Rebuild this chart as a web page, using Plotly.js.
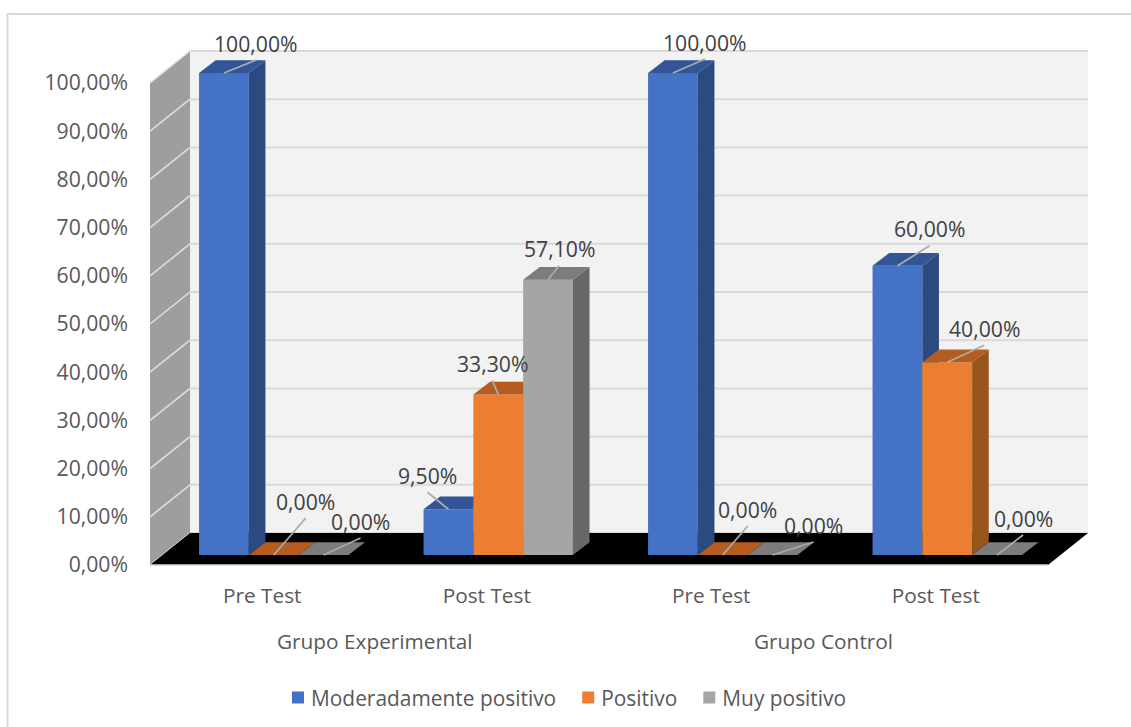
<!DOCTYPE html>
<html>
<head>
<meta charset="utf-8">
<script src="https://cdn.plot.ly/plotly-3.0.1.min.js"></script>
<style>html,body{margin:0;padding:0;background:#fff}#chart{width:1131px;height:727px}</style>
</head>
<body>
<div id="chart"></div>
<script>
// Chart data
const tests = ["Pre Test", "Post Test", "Pre Test", "Post Test"];
const groups = ["Grupo Experimental", "Grupo Control"];
const moderadamente = [100, 9.5, 100, 60];
const positivo = [0, 33.3, 0, 40];
const muyPositivo = [0, 57.1, 0, 0];
const seriesNames = ["Moderadamente positivo", "Positivo", "Muy positivo"];
const percentTicks = [0, 10, 20, 30, 40, 50, 60, 70, 80, 90, 100];

// Leader-line ends relative to the top of each bar, in pixels
const leaderEnds = [
  [[32, -13], [-21, -17], [32, -14], [32, -20]],
  [[32, -37], [-6, -14], [25, -29], [37, -17]],
  [[37, -17], [11, -14], [41, -13], [26, -20]]
];

// Colours: front, top, side
const palette = [
  ["#4472C4", "#315597", "#2A4A80"],
  ["#ED7D31", "#B55D20", "#97551C"],
  ["#A5A5A5", "#7C7C7C", "#686868"]
];
const FONT = '"Open Sans", "Noto Sans", sans-serif';
const TEXT = "#595959";

// Plot frame and pixel scale
const W = 1131, H = 727;
const M = {l: 138, r: 21, t: 20, b: 152, autoexpand: false};
const pxPerCat = 224.5, pxPerPct = 4.82;
const cat0Px = 262.25, zeroPx = 565;
const xRange = [(M.l - cat0Px) / pxPerCat, (W - M.r - cat0Px) / pxPerCat];
const yRange = [(zeroPx - (H - M.b)) / pxPerPct, (zeroPx - M.t) / pxPerPct];
const dxu = p => p / pxPerCat, dyu = p => p / pxPerPct;

// Perspective offsets
const wallX = dxu(40), wallY = dyu(32);
const barW = dxu(49.8), shiftX = dxu(11.5), baseY = dyu(10);
const depthX = dxu(16.6), depthY = dyu(12.7);

const fmt = v => v.toFixed(2).replace(".", ",") + "%";
const pxX = px => (px - M.l) / (W - M.l - M.r);
const pxY = py => (H - M.b - py) / (H - M.t - M.b);

const allSeries = [moderadamente, positivo, muyPositivo];
const traces = [], shapes = [], annotations = [];

// Walls, floor and gridlines sit behind every bar
const xL = -0.5, xR = tests.length - 0.5;
const poly = (pts, fill) => ({
  type: "path", xref: "x", yref: "y", layer: "below", fillcolor: fill,
  line: {width: 0},
  path: "M" + pts.map(p => p.join(",")).join("L") + "Z"
});
const seg = (x0, y0, x1, y1, color, width, layer) => ({
  type: "line", xref: "x", yref: "y", layer: layer || "below",
  x0, y0, x1, y1, line: {color, width}
});
const yMax = 100;
shapes.push(poly([[xL + wallX, wallY], [xR + wallX, wallY], [xR + wallX, yMax + wallY], [xL + wallX, yMax + wallY]], "#F2F2F2"));
shapes.push(poly([[xL, 0], [xL + wallX, wallY], [xL + wallX, yMax + wallY], [xL, yMax]], "#9E9E9E"));
percentTicks.forEach(v => {
  shapes.push(seg(xL + wallX, v + wallY, xR + wallX, v + wallY, "#D9D9D9", 2));
  shapes.push(seg(xL, v, xL + wallX, v + wallY, "#DEDEDE", 1.6));
});
shapes.push(poly([[xL, 0], [xL + wallX, wallY], [xR + wallX, wallY], [xR, 0]], "#000000"));
shapes.push(seg(xL, 0, xR, 0, "#D9D9D9", 1.5));

// One overlaid axis pair per series, so later series paint over earlier ones
allSeries.forEach((vals, s) => {
  const suffix = s === 0 ? "" : String(s + 1);
  const xa = "x" + suffix, ya = "y" + suffix;
  const lefts = vals.map((_, i) => i + shiftX + (s - 1.5) * barW);
  const [front, top, side] = palette[s];

  traces.push({
    type: "bar", name: seriesNames[s], xaxis: xa, yaxis: ya,
    x: lefts.map(l => l + barW / 2), y: vals, base: vals.map(() => baseY),
    width: vals.map(() => barW),
    marker: {color: front, line: {width: 0}}, hoverinfo: "name+text",
    text: vals.map(fmt), textposition: "none"
  });

  const topX = [], topY = [], sideX = [], sideY = [];
  vals.forEach((v, i) => {
    const l = lefts[i], r = l + barW, t = baseY + v;
    topX.push(l, r, r + depthX, l + depthX, l, null);
    topY.push(t, t, t + depthY, t + depthY, t, null);
    sideX.push(r, r + depthX, r + depthX, r, r, null);
    sideY.push(baseY, baseY + depthY, t + depthY, t, baseY, null);
  });
  [[sideX, sideY, side], [topX, topY, top]].forEach(([fx, fy, color]) => {
    traces.push({
      type: "scatter", mode: "lines", xaxis: xa, yaxis: ya, x: fx, y: fy,
      fill: "toself", fillcolor: color, line: {width: 0, color},
      showlegend: false, hoverinfo: "skip"
    });
  });

  // Value labels with their leader lines
  vals.forEach((v, i) => {
    const cx = lefts[i] + barW / 2, cy = baseY + v;
    const ex = cx + dxu(leaderEnds[s][i][0]), ey = cy - dyu(leaderEnds[s][i][1]);
    shapes.push(seg(cx, cy, ex, ey, "#ABABAB", 1.8, "above"));
    annotations.push({
      x: ex, y: ey, xref: "x", yref: "y", yshift: 17, showarrow: false,
      text: fmt(v), xanchor: "center", yanchor: "middle",
      font: {family: FONT, size: 21.2, color: "#404040"}
    });
  });
});

// Group captions under the category labels
groups.forEach((g, k) => {
  annotations.push({
    x: 2 * k + 0.5, xref: "x", y: pxY(641), yref: "paper", showarrow: false,
    text: g, xanchor: "center", yanchor: "middle",
    font: {family: FONT, size: 20.8, color: TEXT}
  });
});

// Chart frame: only the top and left edges fall inside the page
shapes.push({
  type: "path", xref: "paper", yref: "paper", layer: "below",
  line: {color: "#D9D9D9", width: 2},
  path: `M${pxX(7.5)},${pxY(H)}L${pxX(7.5)},${pxY(14)}L${pxX(W)},${pxY(14)}`
});

const overlayAxis = (base) => ({overlaying: base, visible: false, fixedrange: true});
const layout = {
  width: W, height: H, margin: M, autosize: false,
  paper_bgcolor: "#ffffff", plot_bgcolor: "rgba(0,0,0,0)",
  separators: ",.", barmode: "overlay", font: {family: FONT, size: 20.8, color: TEXT},
  showlegend: true,
  legend: {
    orientation: "h", x: pxX(271), xanchor: "left", y: pxY(698), yanchor: "middle",
    font: {family: FONT, size: 20.9, color: TEXT}, bgcolor: "rgba(0,0,0,0)", traceorder: "normal"
  },
  xaxis: {
    range: xRange, tickmode: "array", tickvals: tests.map((_, i) => i), ticktext: tests,
    showgrid: false, zeroline: false, showline: false, ticks: "", ticklabelstandoff: 6,
    tickfont: {family: FONT, size: 20.8, color: TEXT}, fixedrange: true
  },
  yaxis: {
    range: yRange, tickmode: "array", tickvals: percentTicks, ticktext: percentTicks.map(fmt),
    showgrid: false, zeroline: false, showline: false, ticks: "", ticklabelstandoff: 9,
    tickfont: {family: FONT, size: 21.2, color: TEXT}, fixedrange: true
  },
  xaxis2: Object.assign({range: xRange}, overlayAxis("x")),
  yaxis2: Object.assign({range: yRange}, overlayAxis("y")),
  xaxis3: Object.assign({range: xRange}, overlayAxis("x")),
  yaxis3: Object.assign({range: yRange}, overlayAxis("y")),
  shapes, annotations
};

Plotly.newPlot("chart", traces, layout, {displayModeBar: false, staticPlot: true}).then(gd => {
  // Larger legend swatches, set closer to their labels
  gd.querySelectorAll(".legend .legendpoints").forEach(g => g.setAttribute("transform", "translate(7,0)"));
  gd.querySelectorAll(".legend .legendbar").forEach(p => p.setAttribute("d", "m7,7H-7V-7H7Z"));
});
</script>
</body>
</html>
